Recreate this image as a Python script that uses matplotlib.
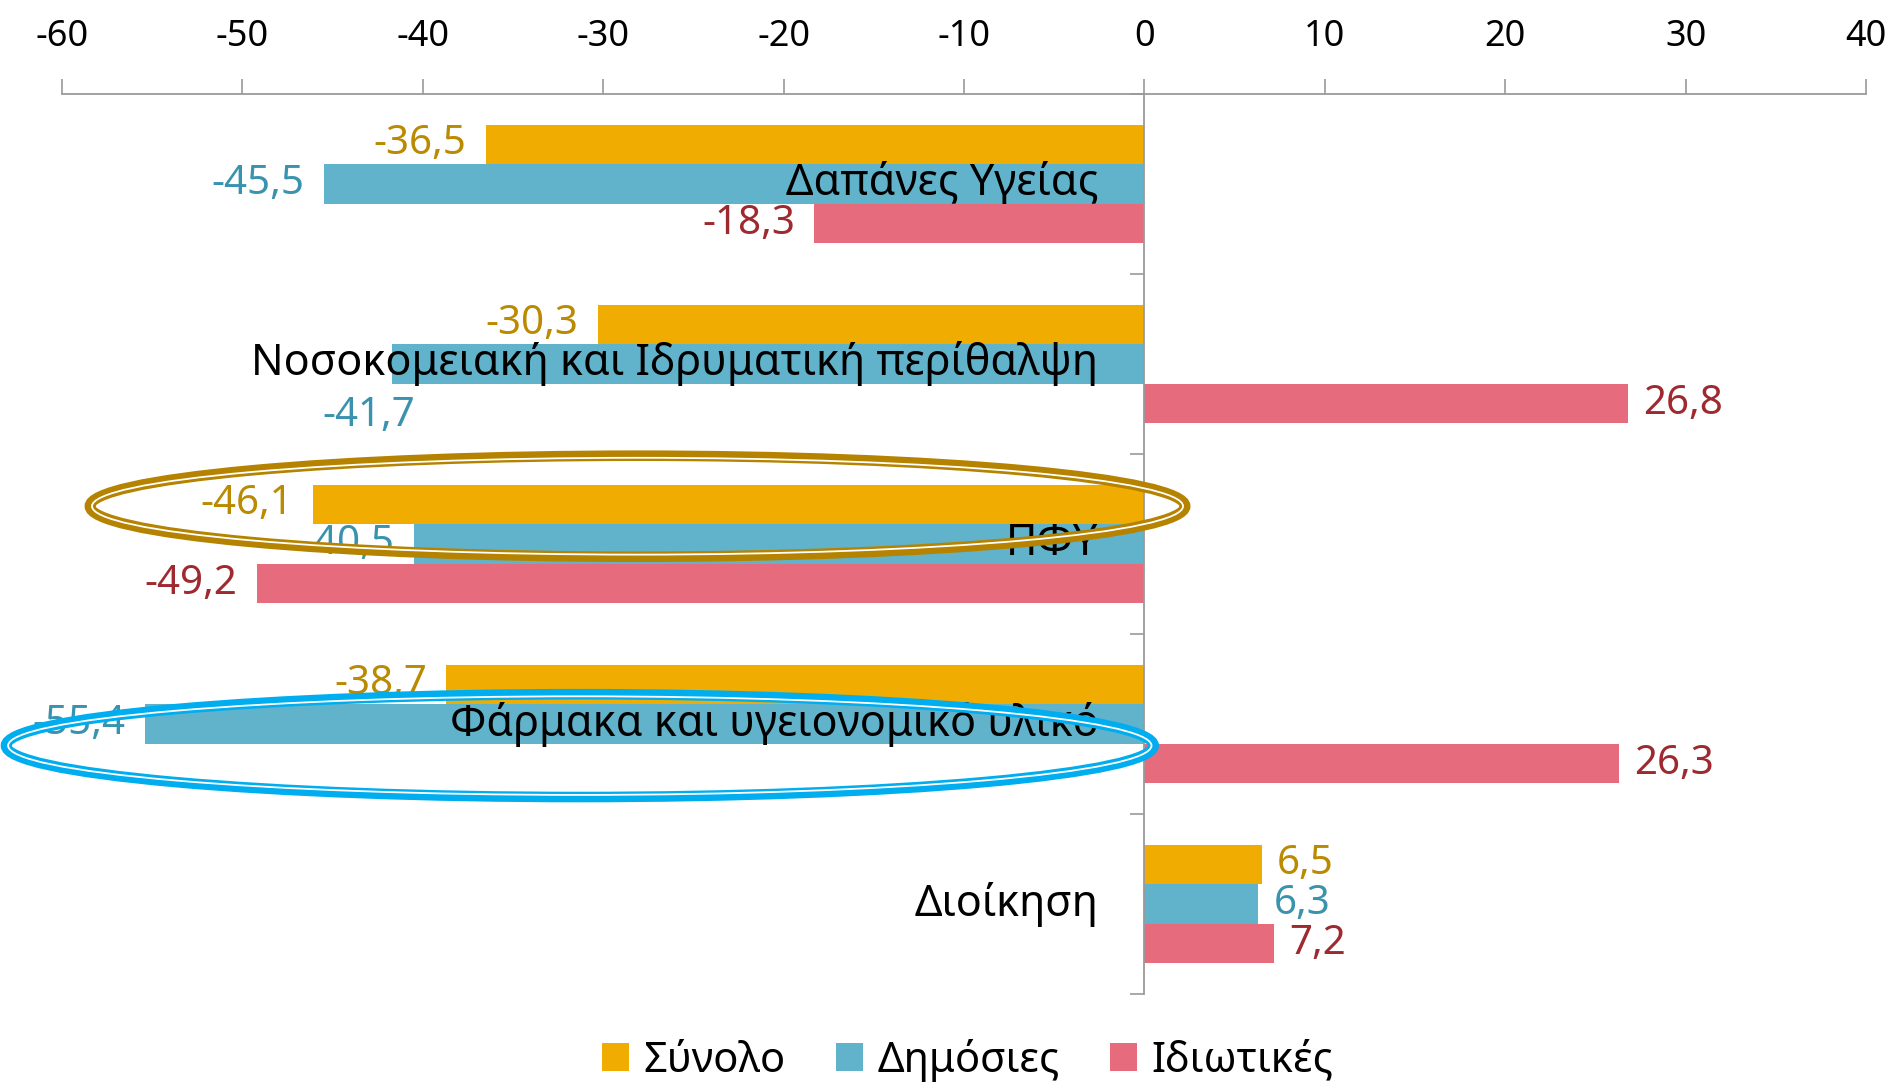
import numpy as np
import matplotlib.pyplot as plt
from matplotlib.patches import Ellipse, Patch

plt.rcParams['font.family'] = ['Noto Sans', 'DejaVu Sans']

# Μεταβολή δαπανών υγείας (%)
categories = ['Δαπάνες Υγείας', 'Νοσοκομειακή και Ιδρυματική περίθαλψη', 'ΠΦΥ',
              'Φάρμακα και υγειονομικό υλικό', 'Διοίκηση']
series = ['Σύνολο', 'Δημόσιες', 'Ιδιωτικές']
synolo = [-36.5, -30.3, -46.1, -38.7, 6.5]
dimosies = [-45.5, -41.7, -40.5, -55.4, 6.3]
idiotikes = [-18.3, 26.8, -49.2, 26.3, 7.2]
xticks = np.arange(-60, 41, 10)

bar_colors = ['#F0AC00', '#61B3CC', '#E66B7D']
label_colors = ['#BA8A00', '#3A93AE', '#9E2A2F']
grey = '#9A9A9A'

fig = plt.figure(figsize=(18.97, 10.84), dpi=100)
ax = fig.add_axes([0.0327, 0.0830, 0.9510, 0.8303])

bh = 0.22
y = np.arange(len(categories))
for k, vals in enumerate([synolo, dimosies, idiotikes]):
    pos = y + (k - 1) * bh
    ax.barh(pos, vals, height=bh, color=bar_colors[k], zorder=2)
    for i, (yi, v) in enumerate(zip(pos, vals)):
        txt = f'{v:.1f}'.replace('.', ',')
        if k == 1 and i == 1:
            # η ετικέτα μετακινείται κάτω από τη μπάρα
            ax.annotate(txt, (v, yi + bh), xytext=(-17, -9), textcoords='offset points',
                        ha='center', va='center', fontsize=29, color=label_colors[k], zorder=3)
            continue
        off = -14 if v < 0 else 11
        ax.annotate(txt, (v, yi), xytext=(off, 0), textcoords='offset points',
                    ha='right' if v < 0 else 'left', va='center', fontsize=29,
                    color=label_colors[k], zorder=3)

for i, cat in enumerate(categories):
    ax.text(-2.55, i, cat, ha='right', va='center', fontsize=31, color='black', zorder=4)

ax.set_xlim(-60, 40)
ax.set_ylim(len(categories) - 0.5, -0.5)

ax.xaxis.tick_top()
ax.set_xticks(xticks)
ax.set_xticklabels([str(t) for t in xticks])
ax.tick_params(axis='x', which='major', top=True, bottom=False, length=11, width=1.2,
               color=grey, labelsize=26, pad=17)

ax.set_yticks(y)
ax.set_yticklabels([])
ax.set_yticks(np.arange(-0.5, len(categories)), minor=True)
ax.tick_params(axis='y', which='major', length=0)
ax.tick_params(axis='y', which='minor', length=10, width=1.2, color=grey, direction='out')

for s in ['right', 'bottom']:
    ax.spines[s].set_visible(False)
ax.spines['top'].set_color(grey)
ax.spines['top'].set_linewidth(1.3)
ax.spines['left'].set_position(('data', 0))
ax.spines['left'].set_color(grey)
ax.spines['left'].set_linewidth(1.3)


def double_ellipse(cx, cy, w, h, color):
    # διπλή γραμμή: παχιά εξωτερική, λευκό κενό, λεπτή εσωτερική
    ppx = ax.bbox.width / 100.0
    ppy = ax.bbox.height / len(categories)
    pt = 72.0 / fig.dpi
    total, outer, gap = 10.6, 6.5, 1.8
    e1 = Ellipse((cx, cy), w - total / ppx, h - total / ppy, fill=False, ec=color,
                 lw=total * pt, zorder=6, clip_on=False)
    d = 2 * (outer + gap / 2)
    e2 = Ellipse((cx, cy), w - d / ppx, h - d / ppy, fill=False, ec='white',
                 lw=gap * pt, zorder=7, clip_on=False)
    ax.add_patch(e1)
    ax.add_patch(e2)


double_ellipse(-28.1, 1.79, 61.3, 0.62, '#B58300')
double_ellipse(-31.3, 3.12, 64.2, 0.63, '#00AEEF')

handles = [Patch(facecolor=c, edgecolor='none') for c in bar_colors]
fig.legend(handles, series, loc='center', bbox_to_anchor=(0.51, 0.022), ncol=3,
           frameon=False, fontsize=30, handlelength=0.65, handleheight=0.65,
           handletextpad=0.35, columnspacing=1.2)

fig.savefig('out.png', dpi=100)
